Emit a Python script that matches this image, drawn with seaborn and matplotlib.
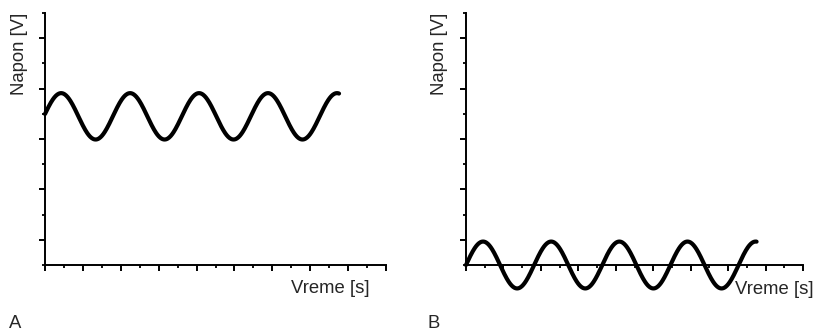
import numpy as np
import pandas as pd
import matplotlib
matplotlib.use("Agg")
import matplotlib.pyplot as plt
from matplotlib.ticker import MultipleLocator, FixedLocator, NullFormatter
import seaborn as sns

# --- values ---
panel_labels = ["A", "B"]
x_label = "Vreme [s]"
y_label = "Napon [V]"
wave_offsets = [5.9, 0.0]        # centre level of each sine (y units)
wave_amplitudes = [0.92, 0.93]   # amplitude (y units)
wave_phases = [0.1, 0.0]         # phase at t=0 (rad)
wave_period = 1.82               # period (x units)
wave_duration = 7.76             # end of the trace (x units)
y_major_ticks = [1, 3, 5, 7, 9]
y_minor_ticks = [0, 2, 4, 6, 8, 10]
x_max = 9
y_max = 10

sns.set_theme(style="white")
plt.rcParams["font.family"] = ["Liberation Sans", "DejaVu Sans"]

W, H = 817, 331
fig = plt.figure(figsize=(W / 100, H / 100), dpi=100)

boxes = [(45, 386), (466, 803)]
y_top, y_bot = 13, 265

for i, (x0, x1) in enumerate(boxes):
    ax = fig.add_axes([x0 / W, 1 - y_bot / H, (x1 - x0) / W, (y_bot - y_top) / H])
    t = np.linspace(0, wave_duration, 600)
    v = wave_offsets[i] + wave_amplitudes[i] * np.sin(2 * np.pi * t / wave_period + wave_phases[i])
    df = pd.DataFrame({"t": t, "v": v})
    sns.lineplot(data=df, x="t", y="v", ax=ax, color="black", linewidth=3.0,
                 sort=False, clip_on=False)
    ax.set_xlim(0, x_max)
    ax.set_ylim(0, y_max)
    ax.set_xlabel("")
    ax.set_ylabel("")
    for s in ["top", "right"]:
        ax.spines[s].set_visible(False)
    for s in ["left", "bottom"]:
        ax.spines[s].set_color("black")
        ax.spines[s].set_linewidth(1.4)
        ax.spines[s].set_zorder(1)
    ax.xaxis.set_major_locator(MultipleLocator(1))
    ax.xaxis.set_minor_locator(MultipleLocator(0.5))
    ax.yaxis.set_major_locator(FixedLocator(y_major_ticks))
    ax.yaxis.set_minor_locator(FixedLocator(y_minor_ticks))
    ax.xaxis.set_major_formatter(NullFormatter())
    ax.yaxis.set_major_formatter(NullFormatter())
    ax.tick_params(which="major", direction="out", length=4.0, width=1.4, color="black",
                   bottom=True, left=True)
    ax.tick_params(which="minor", direction="out", length=2.0, width=1.3, color="black",
                   bottom=True, left=True)
    ax.patch.set_alpha(0)

# labels
fig.text(20 / W, 1 - 54 / H, y_label, rotation=90, ha="center", va="center", fontsize=13.3)
fig.text(440 / W, 1 - 54 / H, y_label, rotation=90, ha="center", va="center", fontsize=13.3)
fig.text(370 / W, 1 - 293 / H, x_label, ha="right", va="baseline", fontsize=13.3)
fig.text(814 / W, 1 - 294 / H, x_label, ha="right", va="baseline", fontsize=13.3)
fig.text(9 / W, 1 - 328 / H, panel_labels[0], ha="left", va="baseline", fontsize=13.3)
fig.text(428 / W, 1 - 328 / H, panel_labels[1], ha="left", va="baseline", fontsize=13.3)

fig.savefig("out.png", dpi=100, facecolor="white")
